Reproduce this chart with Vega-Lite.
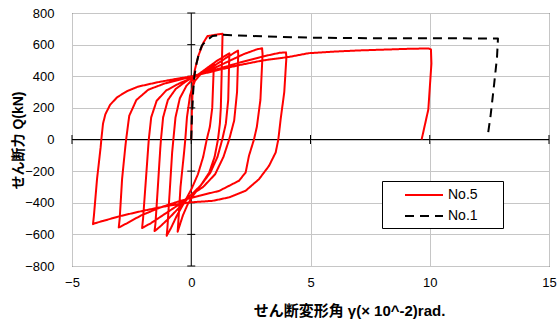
{
  "$schema": "https://vega.github.io/schema/vega-lite/v6.json",
  "width": 477,
  "height": 253,
  "autosize": "none",
  "padding": {"left": 72, "top": 13, "right": 8, "bottom": 54},
  "config": {
    "font": "Liberation Sans, Noto Sans CJK JP, sans-serif",
    "view": {"stroke": "black", "strokeWidth": 1},
    "axis": {"labelColor": "black", "titleColor": "black", "labelFont": "Liberation Sans", "labelFontSize": 13, "gridColor": "#c6c6c6", "gridWidth": 1, "ticks": false, "domain": false, "labelFlush": false, "labelOverlap": false}
  },
  "encoding": {
    "x": {"field": "x", "type": "quantitative", "scale": {"domain": [-5, 15], "nice": false},
      "axis": {"values": [-5, 0, 5, 10, 15], "grid": true, "labelPadding": 10, "title": "せん断変形角  γ(× 10^-2)rad.", "titleFontSize": 15, "titleFontWeight": "bold", "titleX": 277, "titleY": 44, "titleAlign": "center", "titleBaseline": "middle"}},
    "y": {"field": "y", "type": "quantitative", "scale": {"domain": [-800, 800], "nice": false},
      "axis": {"values": [-800, -600, -400, -200, 0, 200, 400, 600, 800], "grid": true, "labelPadding": 18, "title": "せん断力  Q(kN)", "titleFontSize": 14, "titleFontWeight": "bold", "titleX": -54, "titleY": 127, "titleAngle": 270, "titleAlign": "center", "titleBaseline": "middle"}}
  },
  "layer": [
    {
      "data": {"values": [{"x": 0, "y": -800, "y2": 800}]},
      "mark": {"type": "rule", "color": "black", "strokeWidth": 1},
      "encoding": {"y2": {"field": "y2"}}
    },
    {
      "data": {"values": [{"x": -5, "x2": 15, "y": 0}]},
      "mark": {"type": "rule", "color": "black", "strokeWidth": 1},
      "encoding": {"x2": {"field": "x2"}}
    },
    {
      "data": {"values": [{"x": -5, "y": 0}, {"x": 0, "y": 0}, {"x": 5, "y": 0}, {"x": 10, "y": 0}, {"x": 15, "y": 0}]},
      "mark": {"type": "tick", "orient": "vertical", "size": 9, "thickness": 1, "color": "black", "opacity": 1},
      "encoding": {}
    },
    {
      "data": {"values": [{"x": 0, "y": -800}, {"x": 0, "y": -600}, {"x": 0, "y": -400}, {"x": 0, "y": -200}, {"x": 0, "y": 200}, {"x": 0, "y": 400}, {"x": 0, "y": 600}, {"x": 0, "y": 800}]},
      "mark": {"type": "tick", "orient": "horizontal", "size": 8, "thickness": 1, "color": "black", "opacity": 1},
      "encoding": {}
    },
    {
      "data": {"values": [
        {"s":"No.5","x":0,"y":0},{"s":"No.5","x":0.03,"y":200},{"s":"No.5","x":0.07,"y":350},{"s":"No.5","x":0.15,"y":440},{"s":"No.5","x":0.3,"y":530},{"s":"No.5","x":0.5,"y":610},{"s":"No.5","x":0.68,"y":654},{"s":"No.5","x":1.0,"y":662},{"s":"No.5","x":1.31,"y":669},
        {"s":"No.5","x":1.31,"y":650},{"s":"No.5","x":1.28,"y":450},{"s":"No.5","x":1.24,"y":200},{"s":"No.5","x":1.2,"y":100},{"s":"No.5","x":1.12,"y":0},{"s":"No.5","x":0.98,"y":-110},{"s":"No.5","x":0.75,"y":-210},{"s":"No.5","x":0.4,"y":-290},{"s":"No.5","x":0.1,"y":-350},{"s":"No.5","x":-0.15,"y":-410},{"s":"No.5","x":-0.35,"y":-480},{"s":"No.5","x":-0.5,"y":-550},{"s":"No.5","x":-0.57,"y":-583},
        {"s":"No.5","x":-0.55,"y":-540},{"s":"No.5","x":-0.45,"y":-300},{"s":"No.5","x":-0.3,"y":-80},{"s":"No.5","x":-0.25,"y":0},{"s":"No.5","x":-0.18,"y":140},{"s":"No.5","x":-0.05,"y":280},{"s":"No.5","x":0.15,"y":370},{"s":"No.5","x":0.4,"y":415},{"s":"No.5","x":0.7,"y":450},{"s":"No.5","x":0.95,"y":480},
        {"s":"No.5","x":0.94,"y":440},{"s":"No.5","x":0.88,"y":200},{"s":"No.5","x":0.78,"y":80},{"s":"No.5","x":0.65,"y":0},{"s":"No.5","x":0.5,"y":-110},{"s":"No.5","x":0.28,"y":-220},{"s":"No.5","x":0.02,"y":-310},{"s":"No.5","x":-0.3,"y":-400},{"s":"No.5","x":-0.6,"y":-480},{"s":"No.5","x":-0.85,"y":-560},{"s":"No.5","x":-1.0,"y":-600},{"s":"No.5","x":-1.03,"y":-609},
        {"s":"No.5","x":-1.0,"y":-560},{"s":"No.5","x":-0.9,"y":-320},{"s":"No.5","x":-0.8,"y":-80},{"s":"No.5","x":-0.75,"y":0},{"s":"No.5","x":-0.66,"y":140},{"s":"No.5","x":-0.48,"y":260},{"s":"No.5","x":-0.2,"y":340},{"s":"No.5","x":0.15,"y":395},{"s":"No.5","x":0.6,"y":445},{"s":"No.5","x":1.1,"y":500},{"s":"No.5","x":1.6,"y":545},
        {"s":"No.5","x":1.59,"y":500},{"s":"No.5","x":1.55,"y":250},{"s":"No.5","x":1.45,"y":100},{"s":"No.5","x":1.3,"y":0},{"s":"No.5","x":1.1,"y":-110},{"s":"No.5","x":0.8,"y":-210},{"s":"No.5","x":0.4,"y":-290},{"s":"No.5","x":0,"y":-350},{"s":"No.5","x":-0.5,"y":-430},{"s":"No.5","x":-0.95,"y":-500},{"s":"No.5","x":-1.3,"y":-550},{"s":"No.5","x":-1.5,"y":-575},{"s":"No.5","x":-1.54,"y":-579},
        {"s":"No.5","x":-1.5,"y":-530},{"s":"No.5","x":-1.4,"y":-300},{"s":"No.5","x":-1.3,"y":-60},{"s":"No.5","x":-1.27,"y":0},{"s":"No.5","x":-1.18,"y":140},{"s":"No.5","x":-0.98,"y":250},{"s":"No.5","x":-0.65,"y":320},{"s":"No.5","x":-0.2,"y":370},{"s":"No.5","x":0.3,"y":410},{"s":"No.5","x":0.9,"y":460},{"s":"No.5","x":1.5,"y":520},{"s":"No.5","x":1.96,"y":562},
        {"s":"No.5","x":1.97,"y":540},{"s":"No.5","x":1.92,"y":300},{"s":"No.5","x":1.8,"y":120},{"s":"No.5","x":1.59,"y":0},{"s":"No.5","x":1.35,"y":-110},{"s":"No.5","x":1.0,"y":-220},{"s":"No.5","x":0.5,"y":-300},{"s":"No.5","x":0,"y":-350},{"s":"No.5","x":-0.6,"y":-420},{"s":"No.5","x":-1.2,"y":-480},{"s":"No.5","x":-1.7,"y":-530},{"s":"No.5","x":-2.0,"y":-555},{"s":"No.5","x":-2.06,"y":-560},
        {"s":"No.5","x":-2.02,"y":-500},{"s":"No.5","x":-1.9,"y":-250},{"s":"No.5","x":-1.8,"y":-40},{"s":"No.5","x":-1.78,"y":0},{"s":"No.5","x":-1.68,"y":140},{"s":"No.5","x":-1.45,"y":245},{"s":"No.5","x":-1.05,"y":310},{"s":"No.5","x":-0.5,"y":355},{"s":"No.5","x":0.2,"y":400},{"s":"No.5","x":0.8,"y":440},{"s":"No.5","x":1.5,"y":490},{"s":"No.5","x":2.2,"y":540},{"s":"No.5","x":2.75,"y":570},{"s":"No.5","x":2.97,"y":577},
        {"s":"No.5","x":2.99,"y":540},{"s":"No.5","x":2.9,"y":250},{"s":"No.5","x":2.75,"y":80},{"s":"No.5","x":2.63,"y":0},{"s":"No.5","x":2.42,"y":-103},{"s":"No.5","x":2.28,"y":-209},{"s":"No.5","x":2.0,"y":-261},{"s":"No.5","x":1.17,"y":-325},{"s":"No.5","x":0.33,"y":-356},{"s":"No.5","x":-0.5,"y":-390},{"s":"No.5","x":-1.3,"y":-430},{"s":"No.5","x":-2.1,"y":-480},{"s":"No.5","x":-2.7,"y":-530},{"s":"No.5","x":-2.98,"y":-552},{"s":"No.5","x":-3.04,"y":-556},
        {"s":"No.5","x":-3.0,"y":-500},{"s":"No.5","x":-2.9,"y":-250},{"s":"No.5","x":-2.76,"y":-40},{"s":"No.5","x":-2.73,"y":0},{"s":"No.5","x":-2.6,"y":150},{"s":"No.5","x":-2.3,"y":250},{"s":"No.5","x":-1.8,"y":315},{"s":"No.5","x":-1.1,"y":355},{"s":"No.5","x":-0.3,"y":385},{"s":"No.5","x":0.4,"y":415},{"s":"No.5","x":1.2,"y":450},{"s":"No.5","x":2.0,"y":485},{"s":"No.5","x":3.0,"y":525},{"s":"No.5","x":3.7,"y":548},{"s":"No.5","x":3.97,"y":551},
        {"s":"No.5","x":3.99,"y":520},{"s":"No.5","x":3.9,"y":300},{"s":"No.5","x":3.75,"y":130},{"s":"No.5","x":3.65,"y":0},{"s":"No.5","x":3.54,"y":-82},{"s":"No.5","x":3.26,"y":-167},{"s":"No.5","x":2.84,"y":-251},{"s":"No.5","x":2.28,"y":-324},{"s":"No.5","x":1.59,"y":-366},{"s":"No.5","x":0.89,"y":-388},{"s":"No.5","x":-0.08,"y":-398},{"s":"No.5","x":-1.0,"y":-420},{"s":"No.5","x":-2.0,"y":-450},{"s":"No.5","x":-3.0,"y":-485},{"s":"No.5","x":-3.7,"y":-515},{"s":"No.5","x":-4.05,"y":-530},{"s":"No.5","x":-4.12,"y":-535},
        {"s":"No.5","x":-4.08,"y":-480},{"s":"No.5","x":-3.95,"y":-250},{"s":"No.5","x":-3.8,"y":-50},{"s":"No.5","x":-3.77,"y":0},{"s":"No.5","x":-3.7,"y":100},{"s":"No.5","x":-3.6,"y":160},{"s":"No.5","x":-3.4,"y":220},{"s":"No.5","x":-3.1,"y":268},{"s":"No.5","x":-2.7,"y":305},{"s":"No.5","x":-2.24,"y":334},{"s":"No.5","x":-1.41,"y":362},{"s":"No.5","x":-0.57,"y":385},{"s":"No.5","x":0.13,"y":402},{"s":"No.5","x":1.0,"y":435},{"s":"No.5","x":2.0,"y":470},{"s":"No.5","x":3.0,"y":500},{"s":"No.5","x":4.09,"y":522},{"s":"No.5","x":4.93,"y":546},{"s":"No.5","x":6,"y":556},{"s":"No.5","x":7,"y":563},{"s":"No.5","x":8,"y":568},{"s":"No.5","x":9.0,"y":573},{"s":"No.5","x":9.94,"y":576},{"s":"No.5","x":10.05,"y":570},{"s":"No.5","x":10.07,"y":480},{"s":"No.5","x":9.94,"y":190},{"s":"No.5","x":9.66,"y":0},
        {"s":"No.1","x":0,"y":0},{"s":"No.1","x":0.03,"y":150},{"s":"No.1","x":0.08,"y":300},{"s":"No.1","x":0.13,"y":400},{"s":"No.1","x":0.22,"y":480},{"s":"No.1","x":0.33,"y":549},{"s":"No.1","x":0.45,"y":595},{"s":"No.1","x":0.61,"y":622},{"s":"No.1","x":0.89,"y":655},{"s":"No.1","x":1.31,"y":662},{"s":"No.1","x":2,"y":658},{"s":"No.1","x":3,"y":652},{"s":"No.1","x":5,"y":644},{"s":"No.1","x":8,"y":640},{"s":"No.1","x":11,"y":640},{"s":"No.1","x":12.86,"y":638},{"s":"No.1","x":12.82,"y":520},{"s":"No.1","x":12.7,"y":350},{"s":"No.1","x":12.55,"y":150},{"s":"No.1","x":12.44,"y":33}
      ]},
      "mark": {"type": "line", "strokeWidth": 2, "strokeJoin": "round"},
      "encoding": {
        "color": {"field": "s", "type": "nominal", "scale": {"domain": ["No.5", "No.1"], "range": ["#ff0000", "#000000"]},
          "legend": {"orient": "none", "legendX": 310, "legendY": 168, "title": null, "strokeColor": "black", "fillColor": "white", "padding": 5, "symbolType": "M-2.5,0H2.5", "symbolSize": 231, "symbolStrokeWidth": 2, "labelFontSize": 14, "labelFont": "Liberation Sans", "labelColor": "black", "rowPadding": 5, "symbolOffset": 28, "labelOffset": 15, "cornerRadius": 0, "labelExpr": "datum.label + '\u2800\u2800'"}},
        "strokeDash": {"field": "s", "type": "nominal", "scale": {"domain": ["No.5", "No.1"], "range": [[1, 0], [9, 6]]},
          "legend": {"orient": "none", "legendX": 310, "legendY": 168, "title": null, "strokeColor": "black", "fillColor": "white", "padding": 5, "symbolType": "M-2.5,0H2.5", "symbolSize": 231, "symbolStrokeWidth": 2, "labelFontSize": 14, "labelFont": "Liberation Sans", "labelColor": "black", "rowPadding": 5, "symbolOffset": 28, "labelOffset": 15, "cornerRadius": 0, "labelExpr": "datum.label + '\u2800\u2800'"}},
        "order": {"value": null}
      }
    }
  ]
}
